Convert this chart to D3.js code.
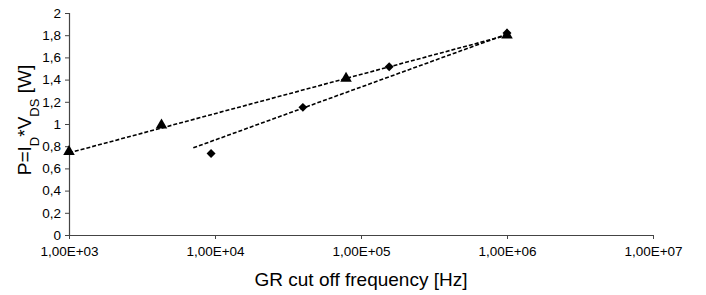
<!DOCTYPE html>
<html>
<head>
<meta charset="utf-8">
<script src="https://cdn.jsdelivr.net/npm/d3@7"></script>
<style>
  body { margin: 0; background: #fff; }
  text { font-family: "Liberation Sans", Arial, sans-serif; fill: #000; }
</style>
</head>
<body>
<div class="chart"></div>
<script>
// series
var freqTri = [1000, 4300, 79000, 1000000];
var powTri = [0.75, 0.99, 1.41, 1.80];
var freqDia = [9400, 40000, 156000, 1000000];
var powDia = [0.735, 1.15, 1.515, 1.82];

// trend lines (end points)
var trendTriFreq = [1000, 1000000];
var trendTriPow = [0.74, 1.80];
var trendDiaFreq = [7100, 1000000];
var trendDiaPow = [0.785, 1.81];

var xTicks = [1e3, 1e4, 1e5, 1e6, 1e7];
var yTicks = [0, 0.2, 0.4, 0.6, 0.8, 1, 1.2, 1.4, 1.6, 1.8, 2];

var width = 706, height = 295;
var plotLeft = 69, plotRight = 653, plotTop = 13, plotBottom = 235;

var x = d3.scaleLog().domain([1e3, 1e7]).range([plotLeft, plotRight]);
var y = d3.scaleLinear().domain([0, 2]).range([plotBottom, plotTop]);

var svg = d3.select(".chart").append("svg")
    .attr("width", width).attr("height", height);

function fmtX(v) {
    var e = Math.round(Math.log10(v));
    return "1,00E+" + (e < 10 ? "0" + e : e);
}
function fmtY(v) {
    return d3.format("~g")(+v.toFixed(1)).replace(".", ",");
}

// axes
var xAxis = d3.axisBottom(x).tickValues(xTicks).tickFormat(fmtX).tickSize(4).tickPadding(7);
var yAxis = d3.axisLeft(y).tickValues(yTicks).tickFormat(fmtY).tickSize(4).tickPadding(4);

var gx = svg.append("g").attr("transform", "translate(0," + plotBottom + ")").call(xAxis);
var gy = svg.append("g").attr("transform", "translate(" + plotLeft + ",0)").call(yAxis);

[gx, gy].forEach(function(g) {
    g.select(".domain").attr("stroke", "#444").attr("stroke-width", 1.2);
    g.selectAll(".tick line").attr("stroke", "#444");
    g.selectAll("text").style("font-family", "Liberation Sans, Arial, sans-serif")
        .style("font-size", "13.5px").attr("fill", "#000");
});
// strip outer tick ends so axis lines meet cleanly
gx.select(".domain").attr("d", "M" + plotLeft + ",0.5H" + plotRight);
gy.select(".domain").attr("d", "M0.5," + plotBottom + "V" + plotTop);

// trend lines
var line = d3.line().x(function(d) { return x(d[0]); }).y(function(d) { return y(d[1]); });
[[trendTriFreq, trendTriPow], [trendDiaFreq, trendDiaPow]].forEach(function(t) {
    svg.append("path")
        .datum(d3.zip(t[0], t[1]))
        .attr("d", line)
        .attr("fill", "none")
        .attr("stroke", "#000")
        .attr("stroke-width", 1.6)
        .attr("stroke-dasharray", "4,2");
});

// markers
var tri = d3.symbol().type(d3.symbolTriangle).size(58);
var dia = d3.symbol().type(d3.symbolSquare).size(40);

svg.selectAll(".tri").data(d3.zip(freqTri, powTri)).enter().append("path")
    .attr("class", "tri")
    .attr("d", tri)
    .attr("transform", function(d) { return "translate(" + x(d[0]) + "," + y(d[1]) + ")"; })
    .attr("fill", "#000");

svg.selectAll(".dia").data(d3.zip(freqDia, powDia)).enter().append("path")
    .attr("class", "dia")
    .attr("d", dia)
    .attr("transform", function(d) { return "translate(" + x(d[0]) + "," + y(d[1]) + ") rotate(45)"; })
    .attr("fill", "#000");

// axis titles
svg.append("text")
    .attr("x", (plotLeft + plotRight) / 2).attr("y", 286)
    .attr("text-anchor", "middle")
    .style("font-size", "19px")
    .text("GR cut off frequency [Hz]");

var yt = svg.append("text")
    .attr("transform", "translate(31," + 120 + ") rotate(-90)")
    .attr("text-anchor", "middle")
    .style("font-size", "19px");
yt.append("tspan").text("P=I");
yt.append("tspan").attr("baseline-shift", "sub").style("font-size", "13px").text("D");
yt.append("tspan").text("*V");
yt.append("tspan").attr("baseline-shift", "sub").style("font-size", "13px").text("DS");
yt.append("tspan").text(" [W]");
</script>
</body>
</html>
